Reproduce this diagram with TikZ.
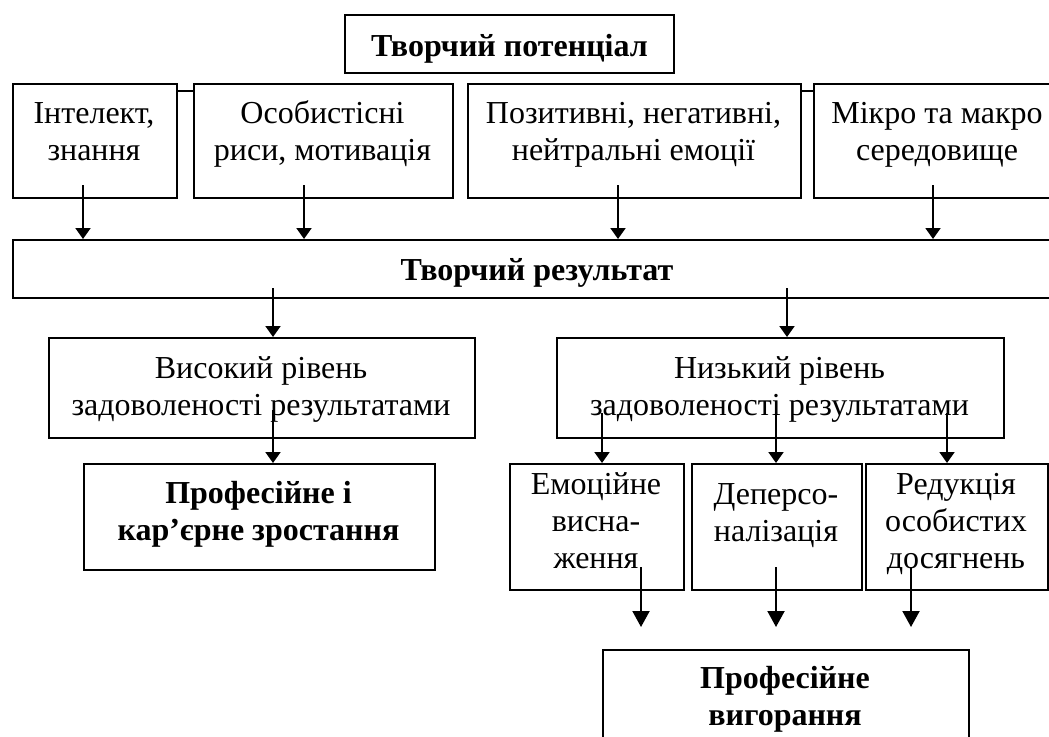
\documentclass[tikz,border=0pt]{standalone}
\usepackage{fontspec}
\setmainfont{Liberation Serif}
\usetikzlibrary{arrows.meta,calc}
\begin{document}
\begin{tikzpicture}[x=1pt,y=-1pt,
  box/.style={draw,line width=1.7pt,inner sep=0pt,anchor=north west},
  lbl/.style={inner sep=0pt,align=center,font=\fontsize{32}{37}\selectfont},
  blbl/.style={inner sep=0pt,align=center,font=\fontsize{32}{37}\selectfont\bfseries},
  arr/.style={line width=2pt,-{Triangle[width=15pt,length=11pt]}},
  bigarr/.style={line width=2pt,-{Triangle[width=17pt,length=16pt]}},
  link/.style={line width=1.7pt}]
\useasboundingbox (0,0) rectangle (1049,736);
% boxes
\node[box,minimum width=329pt,minimum height=58pt] (tp) at (344,14) {};
\node[box,minimum width=164pt,minimum height=114pt] (b1) at (12,83) {};
\node[box,minimum width=259pt,minimum height=114pt] (b2) at (193,83) {};
\node[box,minimum width=333pt,minimum height=114pt] (b3) at (467,83) {};
\node[box,minimum width=248pt,minimum height=114pt] (b4) at (813,83) {};
\node[box,minimum width=1049pt,minimum height=58pt] (res) at (12,239) {};
\node[box,minimum width=426pt,minimum height=100pt] (hi) at (48,337) {};
\node[box,minimum width=447pt,minimum height=100pt] (lo) at (556,337) {};
\node[box,minimum width=351pt,minimum height=106pt] (prof) at (83,463) {};
\node[box,minimum width=174pt,minimum height=126pt] (s1) at (509,463) {};
\node[box,minimum width=170pt,minimum height=126pt] (s2) at (691,463) {};
\node[box,minimum width=182pt,minimum height=126pt] (s3) at (865,463) {};
\node[box,minimum width=366pt,minimum height=120pt] (burn) at (602,649) {};
% texts
\node[blbl] (ttp) at (509.5,48.6) {\strut Творчий потенціал};
\node[lbl] (t1) at (94,134.1) {\strut Інтелект,\\\strut знання};
\node[lbl] (t2) at (322.5,134.1) {\strut Особистісні\\\strut риси, мотивація};
\node[lbl] (t3) at (633.5,134.1) {\strut Позитивні, негативні,\\\strut нейтральні емоції};
\node[lbl] (t4) at (937,134.1) {\strut Мікро та макро\\\strut середовище};
\node[blbl] (tres) at (537,272.6) {\strut Творчий результат};
\node[lbl] (thi) at (261,389.1) {\strut Високий рівень\\\strut задоволеності результатами};
\node[lbl] (tlo) at (779.5,389.1) {\strut Низький рівень\\\strut задоволеності результатами};
\node[blbl] (tprof) at (258.5,514.1) {\strut Професійне і\\\strut кар’єрне зростання};
\node[lbl] (ts1) at (596,524.1) {\strut Емоційне\\\strut висна-\\\strut ження};
\node[lbl] (ts2) at (776,515.1) {\strut Деперсо-\\\strut налізація};
\node[lbl] (ts3) at (956,524.1) {\strut Редукція\\\strut особистих\\\strut досягнень};
\node[blbl] (tburn) at (785,699.1) {\strut Професійне\\\strut вигорання};
% links between top boxes
\draw[link] ($(b1.north east)+(0,8)$) -- ($(b2.north west)+(0,8)$);
\draw[link] ($(b3.north east)+(0,8)$) -- ($(b4.north west)+(0,8)$);
% arrow start points
\coordinate (a1) at (83,185);
\coordinate (a2) at (304,185);
\coordinate (a3) at (618,185);
\coordinate (a4) at (933,185);
\coordinate (r1) at (273,288);
\coordinate (r2) at (787,288);
\coordinate (h1) at (273,410);
\coordinate (l1) at (602,413);
\coordinate (l2) at (776,413);
\coordinate (l3) at (947,413);
\coordinate (c1) at (641,567);
\coordinate (c2) at (776,567);
\coordinate (c3) at (911,567);
\coordinate (e1) at (641,627);
\coordinate (e2) at (776,627);
\coordinate (e3) at (911,627);
% arrows
\draw[arr] (a1) -- (a1 |- res.north);
\draw[arr] (a2) -- (a2 |- res.north);
\draw[arr] (a3) -- (a3 |- res.north);
\draw[arr] (a4) -- (a4 |- res.north);
\draw[arr] (r1) -- (r1 |- hi.north);
\draw[arr] (r2) -- (r2 |- lo.north);
\draw[arr] (h1) -- (h1 |- prof.north);
\draw[arr] (l1) -- (l1 |- s1.north);
\draw[arr] (l2) -- (l2 |- s2.north);
\draw[arr] (l3) -- (l3 |- s3.north);
\draw[bigarr] (c1) -- (e1);
\draw[bigarr] (c2) -- (e2);
\draw[bigarr] (c3) -- (e3);
\end{tikzpicture}
\end{document}
